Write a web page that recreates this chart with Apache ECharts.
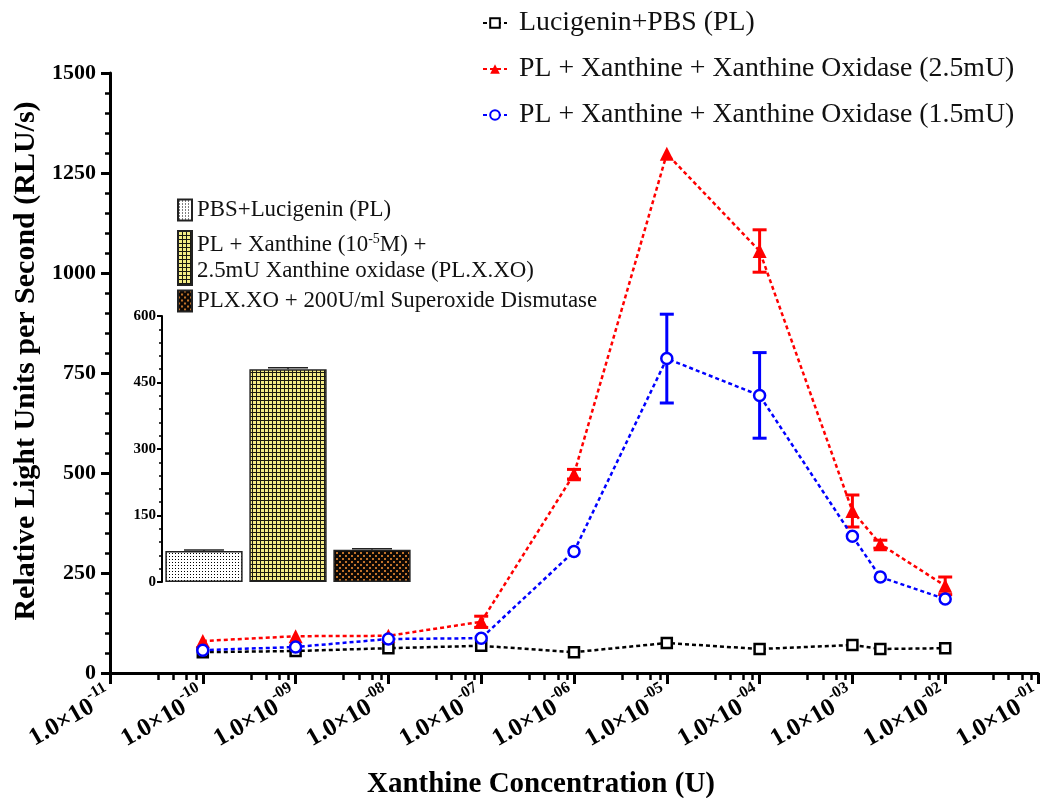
<!DOCTYPE html>
<html>
<head>
<meta charset="utf-8">
<script src="https://cdn.jsdelivr.net/npm/echarts@6/dist/echarts.min.js"></script>
<style>
  html, body { margin: 0; padding: 0; background: #fff; }
  #chart { width: 1042px; height: 798px; }
</style>
</head>
<body>
<div id="chart"></div>
<script>
// Xanthine concentrations (U) tested in the dose-response curve
const concentrations = [1e-10, 1e-9, 1e-8, 1e-7, 1e-6, 1e-5, 1e-4, 1e-3, 2e-3, 1e-2];

// Chemiluminescence (RLU/s) for each condition
const plValues   = [52, 55, 62, 68, 52, 75, 60, 70, 60, 62];
const xo25Values = [80, 92, 93, 128, 497, 1298, 1055, 405, 322, 218];
const xo25Errors = [0, 0, 0, 14, 12, 0, 53, 40, 10, 22];
const xo15Values = [57, 65, 85, 87, 304, 786, 694, 342, 240, 185];
const xo15Errors = [0, 0, 0, 0, 0, 111, 107, 0, 0, 0];

const seriesNames = [
  'Lucigenin+PBS (PL)',
  'PL + Xanthine + Xanthine Oxidase (2.5mU)',
  'PL + Xanthine + Xanthine Oxidase (1.5mU)'
];

// Log axis: one labelled tick per decade, plus minor ticks inside each decade
const xMajorExponents = [-11, -10, -9, -8, -7, -6, -5, -4, -3, -2, -1];
const xMinorMultipliers = [3.3, 4.8, 6.7, 8.4];

// Inset bar chart: SOD control
const insetCategories = ['PBS+Lucigenin (PL)', 'PL.X.XO', 'PLX.XO + SOD'];
const insetNames = [
  'PBS+Lucigenin (PL)',
  'PL + Xanthine (10-5M) + 2.5mU Xanthine oxidase (PL.X.XO)',
  'PLX.XO + 200U/ml Superoxide Dismutase'
];
const insetValues = [70, 480, 73];
const insetErrors = [2, 3, 2];

const SERIF = '"Liberation Serif", "DejaVu Serif", serif';

function pairs(xs, ys) { return xs.map((x, i) => [x, ys[i]]); }
function errorData(xs, ys, es) {
  const out = [];
  xs.forEach((x, i) => { if (es[i] > 0) out.push([x, ys[i] - es[i], ys[i] + es[i]]); });
  return out;
}
const majorTickValues = xMajorExponents.map(e => Math.pow(10, e));
const minorTickValues = [];
xMajorExponents.slice(0, -1).forEach(d =>
  xMinorMultipliers.forEach(m => minorTickValues.push(m * Math.pow(10, d))));

function errorBarRenderer(capHalf, color, width) {
  return function (params, api) {
    const x = api.value(0);
    const lo = api.coord([x, api.value(1)]);
    const hi = api.coord([x, api.value(2)]);
    const style = { stroke: color, lineWidth: width };
    return {
      type: 'group',
      children: [
        { type: 'line', shape: { x1: hi[0], y1: hi[1], x2: lo[0], y2: lo[1] }, style },
        { type: 'line', shape: { x1: hi[0] - capHalf, y1: hi[1], x2: hi[0] + capHalf, y2: hi[1] }, style },
        { type: 'line', shape: { x1: lo[0] - capHalf, y1: lo[1], x2: lo[0] + capHalf, y2: lo[1] }, style }
      ]
    };
  };
}

// Fill patterns for the inset bars
function makePattern(size, draw) {
  const c = document.createElement('canvas');
  c.width = size; c.height = size;
  draw(c.getContext('2d'));
  return { image: c, repeat: 'repeat' };
}
const dotPattern = makePattern(3, ctx => {
  ctx.fillStyle = '#ffffff'; ctx.fillRect(0, 0, 3, 3);
  ctx.fillStyle = '#000000'; ctx.fillRect(1, 1, 1, 1);
});
const gridPattern = makePattern(4, ctx => {
  ctx.fillStyle = '#f3ec86'; ctx.fillRect(0, 0, 4, 4);
  ctx.fillStyle = '#1a1a10'; ctx.fillRect(0, 0, 4, 1); ctx.fillRect(0, 0, 1, 4);
});
const checkPattern = makePattern(6, ctx => {
  ctx.fillStyle = '#0d0804'; ctx.fillRect(0, 0, 6, 6);
  ctx.fillStyle = '#c0722a'; ctx.fillRect(0, 0, 2, 2); ctx.fillRect(3, 3, 2, 2);
});
const insetFills = [dotPattern, gridPattern, checkPattern];

function insetBar(i) {
  return {
    name: insetNames[i],
    type: 'bar',
    xAxisIndex: 2,
    yAxisIndex: 1,
    barGap: '-100%',
    barCategoryGap: '8%',
    data: insetCategories.map((c, j) => (j === i ? insetValues[j] : '-')),
    itemStyle: { color: insetFills[i], borderColor: '#222', borderWidth: 1.5 },
    silent: true
  };
}

const chart = echarts.init(document.getElementById('chart'), null, { renderer: 'canvas' });

const legendText = { fontFamily: SERIF, fontSize: 27.8, color: '#111', padding: [0, 0, 0, 7] };
const insetLegendText = {
  fontFamily: SERIF, fontSize: 22.9, color: '#111', lineHeight: 26,
  rich: {
    t: { fontFamily: SERIF, fontSize: 22.9, color: '#111', lineHeight: 26 },
    s: { fontFamily: SERIF, fontSize: 14, color: '#111', lineHeight: 14, verticalAlign: 'top' }
  }
};

const logAxisBase = {
  type: 'log', logBase: 10, gridIndex: 0, min: 1e-11, max: 1e-1, position: 'bottom'
};

chart.setOption({
  animation: false,
  backgroundColor: '#ffffff',
  title: {
    text: 'Xanthine Concentration (U)',
    left: 536,
    top: 765,
    textAlign: 'center',
    textStyle: { fontFamily: SERIF, fontSize: 29, fontWeight: 'bold', color: '#000' }
  },
  legend: [
    {
      data: seriesNames,
      orient: 'vertical',
      left: 477,
      top: 4,
      itemGap: 18,
      itemWidth: 24,
      itemHeight: 12,
      textStyle: legendText
    },
    {
      data: [insetNames[0]],
      left: 172, top: 192, itemWidth: 14, itemHeight: 21, icon: 'rect',
      textStyle: insetLegendText,
      selectedMode: false
    },
    {
      data: [insetNames[1]],
      left: 172, top: 225, itemWidth: 14, itemHeight: 54, icon: 'rect',
      textStyle: insetLegendText,
      selectedMode: false,
      formatter: () => '{t|PL + Xanthine (10}{s|-5}{t|M) +}\n{t|2.5mU Xanthine oxidase (PL.X.XO)}'
    },
    {
      data: [insetNames[2]],
      left: 172, top: 283, itemWidth: 14, itemHeight: 21, icon: 'rect',
      textStyle: insetLegendText,
      selectedMode: false
    }
  ],
  grid: [
    { left: 110, right: 4, top: 73, bottom: 125, containLabel: false, outerBoundsMode: 'none' },
    { left: 162, top: 316, width: 252, height: 266, containLabel: false, outerBoundsMode: 'none' }
  ],
  xAxis: [
    Object.assign({}, logAxisBase, {
      axisLine: { show: true, lineStyle: { color: '#000', width: 3 } },
      axisTick: { show: true, length: 11, customValues: majorTickValues, lineStyle: { color: '#000', width: 3 } },
      splitLine: { show: false },
      axisLabel: {
        rotate: 30,
        margin: 22,
        color: '#000',
        customValues: majorTickValues,
        hideOverlap: false,
        formatter: v => {
          const e = Math.round(Math.log10(v));
          const s = (e < 0 ? '-' : '') + String(Math.abs(e)).padStart(2, '0');
          return '{b|1.0×10}{s|' + s + '}';
        },
        rich: {
          b: { fontFamily: SERIF, fontSize: 25, fontWeight: 'bold', color: '#000', lineHeight: 36 },
          s: { fontFamily: SERIF, fontSize: 16, fontWeight: 'bold', color: '#000', lineHeight: 16, verticalAlign: 'top' }
        }
      }
    }),
    Object.assign({}, logAxisBase, {
      axisLine: { show: false },
      axisTick: { show: true, length: 7, customValues: minorTickValues, lineStyle: { color: '#000', width: 2.5 } },
      axisLabel: { show: false },
      splitLine: { show: false }
    }),
    {
      type: 'category',
      gridIndex: 1,
      data: insetCategories,
      axisLine: { show: false },
      axisTick: { show: false },
      axisLabel: { show: false }
    }
  ],
  yAxis: [
    {
      type: 'value',
      gridIndex: 0,
      min: 0,
      max: 1500,
      interval: 250,
      name: 'Relative Light Units per Second (RLU/s)',
      nameLocation: 'middle',
      nameGap: 62,
      nameTextStyle: {
        fontFamily: SERIF, fontSize: 30, fontWeight: 'bold', color: '#000',
        padding: [0, 0, 0, 24]
      },
      axisLine: { show: true, lineStyle: { color: '#000', width: 3 } },
      axisTick: { show: true, length: 9, lineStyle: { color: '#000', width: 3 } },
      minorTick: { show: true, splitNumber: 5, length: 5, lineStyle: { color: '#000', width: 2.5 } },
      splitLine: { show: false },
      axisLabel: {
        fontFamily: SERIF, fontSize: 22, fontWeight: 'bold', color: '#000', margin: 14,
        formatter: v => String(v)
      }
    },
    {
      type: 'value',
      gridIndex: 1,
      min: 0,
      max: 600,
      interval: 150,
      axisLine: { show: true, lineStyle: { color: '#000', width: 2 } },
      axisTick: { show: true, length: 5, lineStyle: { color: '#000', width: 2 } },
      minorTick: { show: true, splitNumber: 5, length: 3, lineStyle: { color: '#000', width: 1.5 } },
      splitLine: { show: false },
      axisLabel: {
        fontFamily: SERIF, fontSize: 15, fontWeight: 'bold', color: '#000', margin: 6,
        formatter: v => String(v)
      }
    }
  ],
  series: [
    insetBar(0),
    insetBar(1),
    insetBar(2),
    {
      type: 'custom',
      xAxisIndex: 2,
      yAxisIndex: 1,
      silent: true,
      renderItem: (params, api) => {
        const i = api.value(0);
        const top = api.coord([i, api.value(1) + api.value(2)]);
        const bar = api.coord([i, api.value(1)]);
        const style = { stroke: '#222', lineWidth: 1.5 };
        return {
          type: 'group',
          children: [
            { type: 'line', shape: { x1: top[0], y1: top[1], x2: bar[0], y2: bar[1] }, style },
            { type: 'line', shape: { x1: top[0] - 20, y1: top[1], x2: top[0] + 20, y2: top[1] }, style }
          ]
        };
      },
      data: insetValues.map((v, i) => [i, v, insetErrors[i]]),
      z: 3
    },
    {
      name: seriesNames[0],
      type: 'line',
      xAxisIndex: 0,
      yAxisIndex: 0,
      data: pairs(concentrations, plValues),
      symbol: 'rect',
      symbolSize: 10,
      itemStyle: { color: '#fff', borderColor: '#000', borderWidth: 2.5 },
      lineStyle: { color: '#000', width: 2.5, type: [4, 3] },
      z: 4
    },
    {
      name: seriesNames[1],
      type: 'line',
      xAxisIndex: 0,
      yAxisIndex: 0,
      data: pairs(concentrations, xo25Values),
      symbol: 'triangle',
      symbolSize: 14,
      itemStyle: { color: '#ff0000' },
      lineStyle: { color: '#ff0000', width: 2.5, type: [4, 3] },
      z: 5
    },
    {
      name: seriesNames[2],
      type: 'line',
      xAxisIndex: 0,
      yAxisIndex: 0,
      data: pairs(concentrations, xo15Values),
      symbol: 'circle',
      symbolSize: 11,
      itemStyle: { color: '#fff', borderColor: '#0000ff', borderWidth: 2.5 },
      lineStyle: { color: '#0000ff', width: 2.5, type: [4, 3] },
      z: 6
    },
    {
      type: 'custom',
      xAxisIndex: 0,
      yAxisIndex: 0,
      silent: true,
      clip: false,
      renderItem: errorBarRenderer(7, '#ff0000', 3),
      data: errorData(concentrations, xo25Values, xo25Errors),
      z: 5
    },
    {
      type: 'custom',
      xAxisIndex: 0,
      yAxisIndex: 0,
      silent: true,
      clip: false,
      renderItem: errorBarRenderer(7, '#0000ff', 3),
      data: errorData(concentrations, xo15Values, xo15Errors),
      z: 6
    }
  ]
});
</script>
</body>
</html>
